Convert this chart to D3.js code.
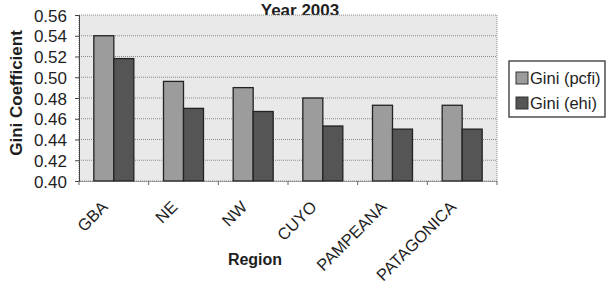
<!DOCTYPE html>
<html>
<head>
<meta charset="utf-8">
<script src="https://cdn.jsdelivr.net/npm/d3@7"></script>
<style>
  body { margin: 0; background: #fff; }
  svg text { font-family: "Liberation Sans", Arial, Helvetica, sans-serif; fill: #1e1e1e; }
</style>
</head>
<body>
<div id="root"></div>
<script>
var regions = ["GBA", "NE", "NW", "CUYO", "PAMPEANA", "PATAGONICA"];
var seriesNames = ["Gini (pcfi)", "Gini (ehi)"];
var giniPcfi = [0.540, 0.496, 0.490, 0.480, 0.473, 0.473];
var giniEhi = [0.518, 0.470, 0.467, 0.453, 0.450, 0.450];
var yTicks = [0.40, 0.42, 0.44, 0.46, 0.48, 0.50, 0.52, 0.54, 0.56];
var colors = ["#9c9c9c", "#555555"];

var margin = {top: 15, right: 109, bottom: 103, left: 79};
var W = 606, H = 284;
var width = W - margin.left - margin.right,
    height = H - margin.top - margin.bottom;

var svg = d3.select("#root").append("svg")
    .attr("width", W)
    .attr("height", H);

// title (sits right on the top edge, as in the original)
svg.append("text")
    .attr("x", 300)
    .attr("y", 15.5)
    .attr("text-anchor", "middle")
    .style("font-size", "17px")
    .style("font-weight", "bold")
    .text("Year 2003");

var g = svg.append("g")
    .attr("transform", "translate(" + margin.left + "," + margin.top + ")");

var x = d3.scaleBand()
    .domain(regions)
    .range([0, width]);

// two bars of 20px centred in each region band
var xs = d3.scaleBand()
    .domain(seriesNames)
    .range([x.bandwidth() / 2 - 20, x.bandwidth() / 2 + 20]);

var y = d3.scaleLinear()
    .domain([0.40, 0.56])
    .range([height, 0]);

// plot background
g.append("rect")
    .attr("width", width)
    .attr("height", height)
    .attr("fill", "#e9e9e9")
    .attr("stroke", "#8a8a8a")
    .attr("stroke-dasharray", "1,1");

// gridlines
g.selectAll(".grid")
    .data(yTicks.slice(1, -1))
    .enter().append("line")
    .attr("x1", 0)
    .attr("x2", width)
    .attr("y1", function (d) { return y(d); })
    .attr("y2", function (d) { return y(d); })
    .attr("stroke", "#8a8a8a")
    .attr("stroke-dasharray", "1,1");

// bars
var data = regions.map(function (r, i) {
    return {region: r, values: [giniPcfi[i], giniEhi[i]]};
});

var groups = g.selectAll(".grp")
    .data(data)
    .enter().append("g")
    .attr("transform", function (d) { return "translate(" + x(d.region) + ",0)"; });

groups.selectAll("rect")
    .data(function (d) {
        return d.values.map(function (v, j) { return {name: seriesNames[j], value: v, j: j}; });
    })
    .enter().append("rect")
    .attr("x", function (d) { return xs(d.name); })
    .attr("width", xs.bandwidth())
    .attr("y", function (d) { return y(d.value); })
    .attr("height", function (d) { return height - y(d.value); })
    .attr("fill", function (d) { return colors[d.j]; })
    .attr("stroke", "#222")
    .attr("stroke-width", 1.3);

// y axis
var yAxis = d3.axisLeft(y)
    .tickValues(yTicks)
    .tickFormat(d3.format(".2f"))
    .tickSize(4)
    .tickPadding(8);

var gy = g.append("g").call(yAxis);
gy.attr("font-family", null);
gy.select(".domain").attr("stroke", "#444");
gy.selectAll(".tick line").attr("stroke", "#444");
gy.selectAll("text")
    .attr("dy", "0.36em")
    .style("font-size", "17px");

// x axis, labels slanted
var xAxis = d3.axisBottom(x).tickSize(0).tickSizeOuter(0);
var gx = g.append("g")
    .attr("transform", "translate(0," + height + ")")
    .call(xAxis);
gx.attr("font-family", null);
gx.select(".domain").attr("stroke", "#555").attr("stroke-dasharray", "1,1");
gx.selectAll("text")
    .style("font-size", "16.5px")
    .style("text-anchor", "end")
    .attr("dy", null)
    .attr("y", 0)
    .attr("transform", "translate(-5,27) rotate(-45)");

// small ticks at the category boundaries
g.selectAll(".xt")
    .data(d3.range(regions.length + 1))
    .enter().append("line")
    .attr("x1", function (i) { return i * x.step(); })
    .attr("x2", function (i) { return i * x.step(); })
    .attr("y1", height)
    .attr("y2", height + 4)
    .attr("stroke", "#666");

// axis titles
svg.append("text")
    .attr("transform", "translate(22,93) rotate(-90)")
    .attr("text-anchor", "middle")
    .style("font-size", "17px")
    .style("font-weight", "bold")
    .text("Gini Coefficient");

svg.append("text")
    .attr("x", 255)
    .attr("y", 265)
    .attr("text-anchor", "middle")
    .style("font-size", "16px")
    .style("font-weight", "bold")
    .text("Region");

// legend
var legend = svg.append("g").attr("transform", "translate(509,61)");
legend.append("rect")
    .attr("width", 96)
    .attr("height", 56)
    .attr("fill", "#fff")
    .attr("stroke", "#333")
    .attr("stroke-width", 1.3);

var items = legend.selectAll(".li")
    .data(seriesNames)
    .enter().append("g")
    .attr("transform", function (d, i) { return "translate(7," + (11 + i * 25) + ")"; });

items.append("rect")
    .attr("width", 12)
    .attr("height", 12)
    .attr("fill", function (d, i) { return colors[i]; })
    .attr("stroke", "#333");

items.append("text")
    .attr("x", 14)
    .attr("y", 12)
    .style("font-size", "16.5px")
    .text(function (d) { return d; });
</script>
</body>
</html>
